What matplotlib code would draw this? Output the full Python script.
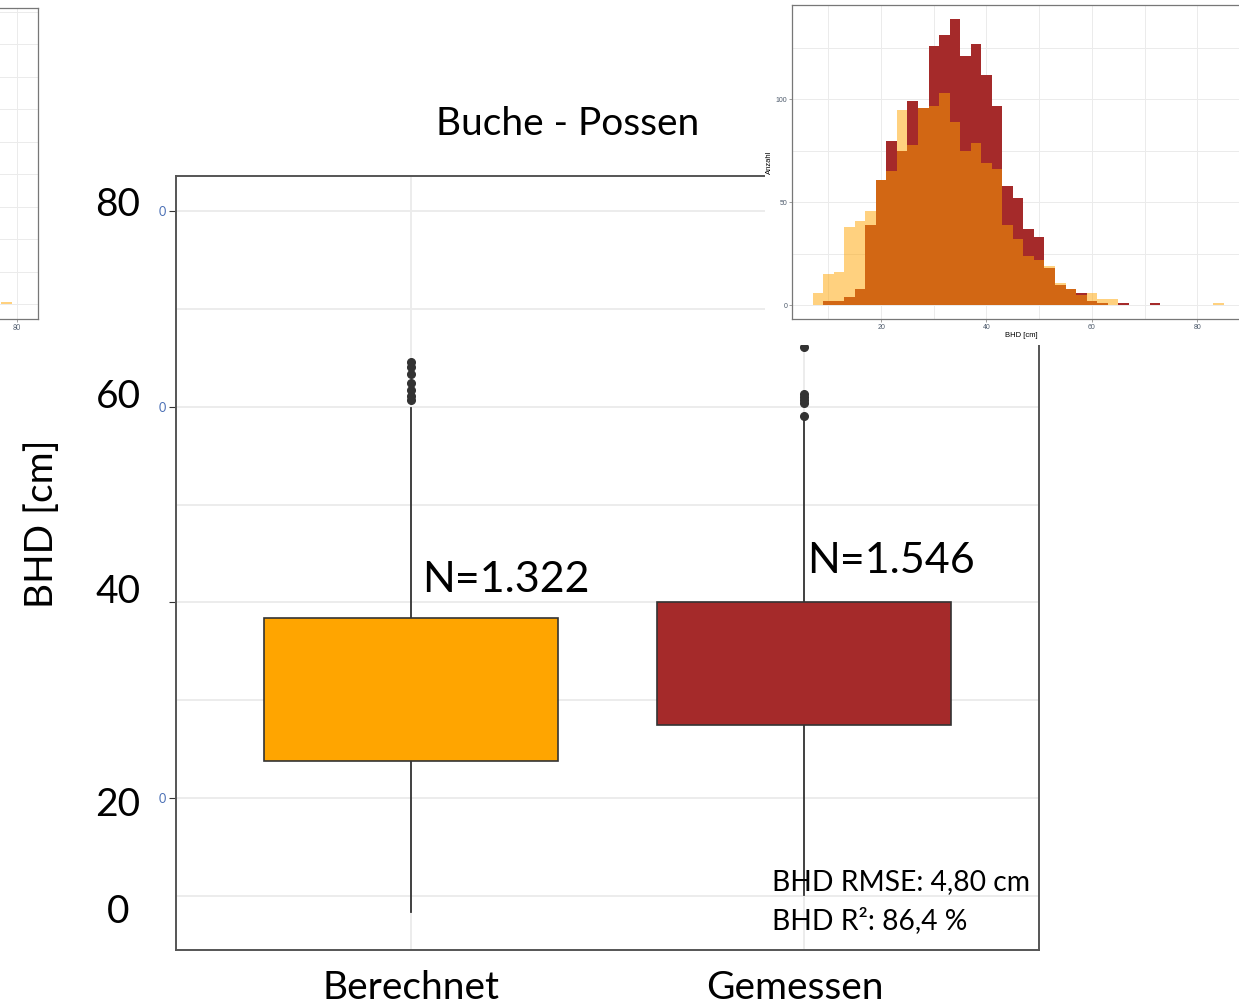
import numpy as np
import matplotlib.pyplot as plt

W, H = 1239, 1007

plt.rcParams['font.family'] = ['Lato', 'DejaVu Sans']

# boxplot values (BHD in cm)
categories = ['Berechnet', 'Gemessen']
box_fill = ['#FFA500', '#A52A2A']
box_q1 = [23.8, 27.5]
box_med = [31.1, 33.8]
box_q3 = [38.4, 40.0]
whisker_lo = [8.35, 10.1]
whisker_hi = [59.9, 58.6]
outliers = [[60.7, 61.1, 61.7, 62.4, 63.3, 64.1, 64.6],
            [59.0, 60.4, 60.7, 61.0, 61.3, 66.1]]
n_labels = ['N=1.322', 'N=1.546']
stat_lines = ['BHD RMSE: 4,80 cm', 'BHD R²: 86,4 %']
slide_ticks = ['80', '60', '40', '20', '0']

# histogram inset (binwidth 2 cm)
hist_edges = np.arange(7, 87, 2)
hist_berechnet = [6, 15, 16, 38, 41, 46, 61, 65, 95, 78, 96, 97, 103, 89, 75, 79, 69, 66, 39, 32,
                  24, 22, 19, 11, 8, 5, 6, 3, 3, 0, 0, 0, 0, 0, 0, 0, 0, 0, 1]
hist_gemessen = [0, 2, 2, 4, 8, 39, 61, 80, 75, 99, 96, 126, 131, 139, 121, 127, 112, 97, 58, 52,
                 37, 33, 18, 10, 8, 6, 2, 1, 0, 1, 0, 0, 1, 0, 0, 0, 0, 0, 0]

# cut-off panel at the top left
tail_edges = [77.4, 79.2]
tail_counts = [1]


def fx(px):
    return px / W


def fy(py):
    return 1 - py / H


fig = plt.figure(figsize=(W / 100, H / 100), dpi=100)

# ---- main boxplot ----
ax = fig.add_axes([fx(176), fy(950), fx(1039 - 176), (950 - 176) / H])
stats = []
for i in range(2):
    stats.append(dict(med=box_med[i], q1=box_q1[i], q3=box_q3[i],
                      whislo=whisker_lo[i], whishi=whisker_hi[i], fliers=outliers[i]))
bp = ax.bxp(stats, positions=[1, 2], widths=0.75, patch_artist=True, showcaps=False,
            boxprops=dict(edgecolor='#333333', linewidth=1.2),
            medianprops=dict(color='#333333', linewidth=3),
            whiskerprops=dict(color='#333333', linewidth=1.3),
            flierprops=dict(marker='o', markerfacecolor='#333333', markeredgecolor='#333333',
                            markersize=5.5))
for patch, c in zip(bp['boxes'], box_fill):
    patch.set_facecolor(c)
    patch.set_zorder(3)

ax.set_xlim(0.4, 2.6)
ax.set_ylim(4.47, 83.58)
ax.set_yticks([20, 40, 60, 80])
ax.set_yticklabels(['0', '', '0', '0'], color='#4a6fb5', fontsize=9)
ax.set_yticks([10, 30, 50, 70], minor=True)
ax.set_xticks([1, 2])
ax.set_xticklabels([])
ax.tick_params(axis='y', which='major', length=5, color='#333333', pad=2)
ax.tick_params(axis='y', which='minor', length=0)
ax.tick_params(axis='x', length=0)
ax.grid(True, which='major', color='#EBEBEB', linewidth=1.3)
ax.grid(True, which='minor', axis='y', color='#EBEBEB', linewidth=1.3)
ax.set_axisbelow(True)
for s in ax.spines.values():
    s.set_color('#555555')
    s.set_linewidth(1.4)

# slide text on top of the chart
fig.text(fx(568), fy(124), 'Buche - Possen', fontsize=28, ha='center', va='center')
fig.text(fx(42), fy(524), 'BHD [cm]', fontsize=28, rotation=90, ha='center', va='center')
for lab, py in zip(slide_ticks, [205, 397, 592, 805, 912]):
    fig.text(fx(118), fy(py), lab, fontsize=28, ha='center', va='center')
fig.text(fx(422), fy(580), n_labels[0], fontsize=31, ha='left', va='center')
fig.text(fx(807), fy(561), n_labels[1], fontsize=31, ha='left', va='center')
fig.text(fx(772), fy(882), stat_lines[0], fontsize=20.3, ha='left', va='center')
fig.text(fx(772), fy(921), stat_lines[1], fontsize=20.3, ha='left', va='center')
for lab, px in zip(categories, [411, 795]):
    fig.text(fx(px), fy(999), lab, fontsize=28, ha='center', va='baseline')

# ---- histogram inset (white image pasted over the top right) ----
fig.patches.append(plt.Rectangle((fx(765), fy(345)), 1 - fx(765), 345 / H,
                                 transform=fig.transFigure, facecolor='white',
                                 edgecolor='none', zorder=4))
ins = fig.add_axes([fx(792), fy(319), fx(1250 - 792), (319 - 5) / H], zorder=5)
ins.stairs(hist_gemessen, hist_edges, fill=True, color='#A52A2A')
ins.stairs(hist_berechnet, hist_edges, fill=True, color='#FFA500', alpha=0.5)
ins.set_xlim(3.1, 90.0)
ins.set_ylim(-6.65, 145.8)
ins.set_xticks([20, 40, 60, 80])
ins.set_xticks([10, 30, 50, 70], minor=True)
ins.set_yticks([0, 50, 100])
ins.set_yticks([25, 75, 125], minor=True)
ins.grid(True, which='both', color='#EBEBEB', linewidth=0.7)
ins.set_axisbelow(True)
ins.tick_params(which='both', labelsize=5, labelcolor='#4d5a6b', length=2, width=0.5,
                color='#777777', pad=1.5)
ins.tick_params(which='minor', length=0)
for lab in ins.get_xticklabels() + ins.get_yticklabels():
    lab.set_family(['Liberation Sans'])
ins.set_xlabel('BHD [cm]', fontsize=5.5, family=['Liberation Sans'], labelpad=1)
ins.set_ylabel('Anzahl', fontsize=5.5, family=['Liberation Sans'], labelpad=2)
for s in ins.spines.values():
    s.set_color('#777777')
    s.set_linewidth(0.9)

# ---- cut-off panel at the top left ----
left = fig.add_axes([fx(-60), fy(319), fx(60 + 38), (319 - 8) / H])
left.stairs(tail_counts, tail_edges, fill=True, color='#FFA500', alpha=0.5)
left.set_xlim(77.17 - 60 / 6, 83.5)
left.set_ylim(-5.65, 114)
left.set_xticks([80])
left.set_yticks([0, 25, 50, 75, 100])
left.set_yticks([12.5, 37.5, 62.5, 87.5, 112.5], minor=True)
left.grid(True, which='both', color='#EBEBEB', linewidth=0.7)
left.set_axisbelow(True)
left.tick_params(which='both', labelsize=5, labelcolor='#4d5a6b', length=2, width=0.5,
                 color='#777777', pad=1.5)
left.tick_params(which='minor', length=0)
left.set_yticklabels([])
for s in left.spines.values():
    s.set_color('#777777')
    s.set_linewidth(0.9)

fig.savefig('out.png', dpi=100)
